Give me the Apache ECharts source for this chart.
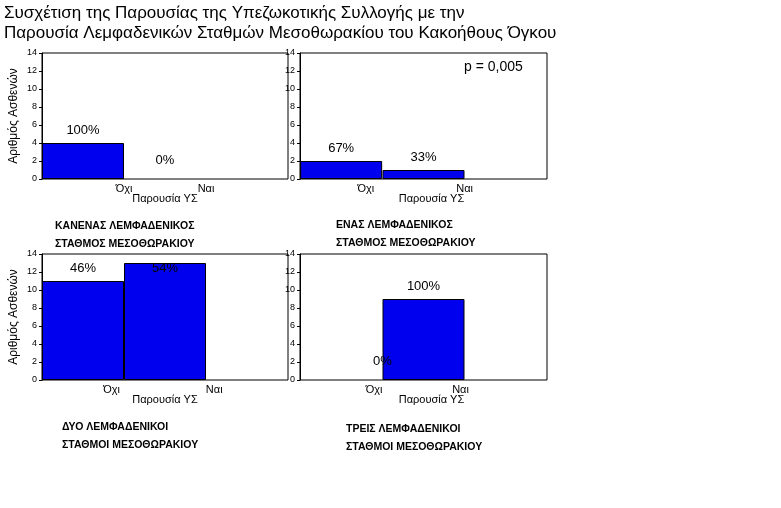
<!DOCTYPE html>
<html>
<head>
<meta charset="utf-8">
<script src="https://cdn.jsdelivr.net/npm/echarts@6/dist/echarts.min.js"></script>
<style>html,body{margin:0;padding:0;background:#fff}#main{width:781px;height:508px}</style>
</head>
<body>
<div id="main"></div>
<script>
var yTicks = [0, 2, 4, 6, 8, 10, 12, 14];
var catNames = ["Όχι", "Ναι"];
// per panel: bar left edges (in band units), counts, percent labels, category label positions
var barPos = [[0.5, 1.5], [0.5, 1.5], [0.5, 1.5], [1.0, 1.5]];
var counts = [[4, 0], [2, 1], [11, 13], [0, 9]];
var percents = [["100%", "0%"], ["67%", "33%"], ["46%", "54%"], ["0%", "100%"]];
var catLabelPos = [[1.0, 2.0], [0.8, 2.0], [0.85, 2.1], [0.9, 1.95]];
var captions = [
  ["ΚΑΝΕΝΑΣ ΛΕΜΦΑΔΕΝΙΚΟΣ", "ΣΤΑΘΜΟΣ ΜΕΣΟΘΩΡΑΚΙΟΥ"],
  ["ΕΝΑΣ ΛΕΜΦΑΔΕΝΙΚΟΣ", "ΣΤΑΘΜΟΣ ΜΕΣΟΘΩΡΑΚΙΟΥ"],
  ["ΔΥΟ ΛΕΜΦΑΔΕΝΙΚΟΙ", "ΣΤΑΘΜΟΙ ΜΕΣΟΘΩΡΑΚΙΟΥ"],
  ["ΤΡΕΙΣ ΛΕΜΦΑΔΕΝΙΚΟΙ", "ΣΤΑΘΜΟΙ ΜΕΣΟΘΩΡΑΚΙΟΥ"]
];
var captionXY = [[55, 217], [336, 216], [62, 418], [346, 420]];

var chart = echarts.init(document.getElementById("main"));
var grids = [
  {left: 42, top: 53, width: 246, height: 126},
  {left: 300, top: 53, width: 247, height: 126},
  {left: 42, top: 254, width: 246, height: 126},
  {left: 300, top: 254, width: 247, height: 126}
];
var font = "Liberation Sans, Arial, sans-serif";
var xAxes = [], yAxes = [], series = [];
grids.forEach(function (g, i) {
  g.show = true; g.borderColor = "#000"; g.borderWidth = 1; g.backgroundColor = "#fff";
  xAxes.push({gridIndex: i, type: "value", min: 0, max: 3, show: false});
  yAxes.push({
    gridIndex: i, type: "value", min: 0, max: 14, interval: 2,
    axisLine: {show: true, lineStyle: {color: "#000"}},
    axisTick: {show: true, length: 3, lineStyle: {color: "#000"}},
    axisLabel: {fontSize: 9, color: "#000", fontFamily: font, margin: 5},
    splitLine: {show: false},
    name: i % 2 === 0 ? "Αριθμός Ασθενών" : "",
    nameLocation: "middle", nameGap: 22, nameRotate: 90,
    nameTextStyle: {fontSize: 12, color: "#000", fontFamily: font}
  });
  series.push({
    type: "bar", xAxisIndex: i, yAxisIndex: i, barWidth: 82,
    itemStyle: {color: "#0000ee", borderColor: "#000", borderWidth: 1},
    data: counts[i].map(function (v, j) {
      return {
        value: [barPos[i][j], v],
        itemStyle: v === 0 ? {borderWidth: 0, opacity: 0} : undefined,
        label: {
          show: true, position: "top", distance: v === 0 ? 12 : 6,
          offset: (i === 2 && j === 1) ? [0, 18] : [0, 0],
          formatter: percents[i][j], fontSize: 13, color: "#000", fontFamily: font, opacity: 1
        }
      };
    })
  });
});

chart.setOption({
  animation: false,
  backgroundColor: "#fff",
  grid: grids, xAxis: xAxes, yAxis: yAxes, series: series
});

var gr = [
  {type: "text", left: 4, top: 5, style: {text: "Συσχέτιση της Παρουσίας της Υπεζωκοτικής Συλλογής με την", fontSize: 17, fill: "#000", fontFamily: font}},
  {type: "text", left: 4, top: 25, style: {text: "Παρουσία Λεμφαδενικών Σταθμών Μεσοθωρακίου του Κακοήθους Όγκου", fontSize: 17, fill: "#000", fontFamily: font}},
  {type: "text", left: 464, top: 60, style: {text: "p = 0,005", fontSize: 14, fill: "#000", fontFamily: font}}
];
grids.forEach(function (g, i) {
  catNames.forEach(function (c, j) {
    var px = chart.convertToPixel({gridIndex: i}, [catLabelPos[i][j], 0]);
    gr.push({type: "text", x: px[0], y: px[1] + 4, style: {text: c, fontSize: 11, fill: "#000", fontFamily: font, align: "center"}});
  });
  gr.push({type: "text", x: g.left + g.width / 2 + (i % 2 ? 8 : 0), y: g.top + g.height + 14,
    style: {text: "Παρουσία ΥΣ", fontSize: 11, fill: "#000", fontFamily: font, align: "center"}});
  gr.push({type: "text", x: captionXY[i][0], y: captionXY[i][1],
    style: {text: captions[i].join("\n"), fontSize: 10.5, fontWeight: "bold", lineHeight: 18, fill: "#000", fontFamily: font}});
});
chart.setOption({graphic: gr});
</script>
</body>
</html>
